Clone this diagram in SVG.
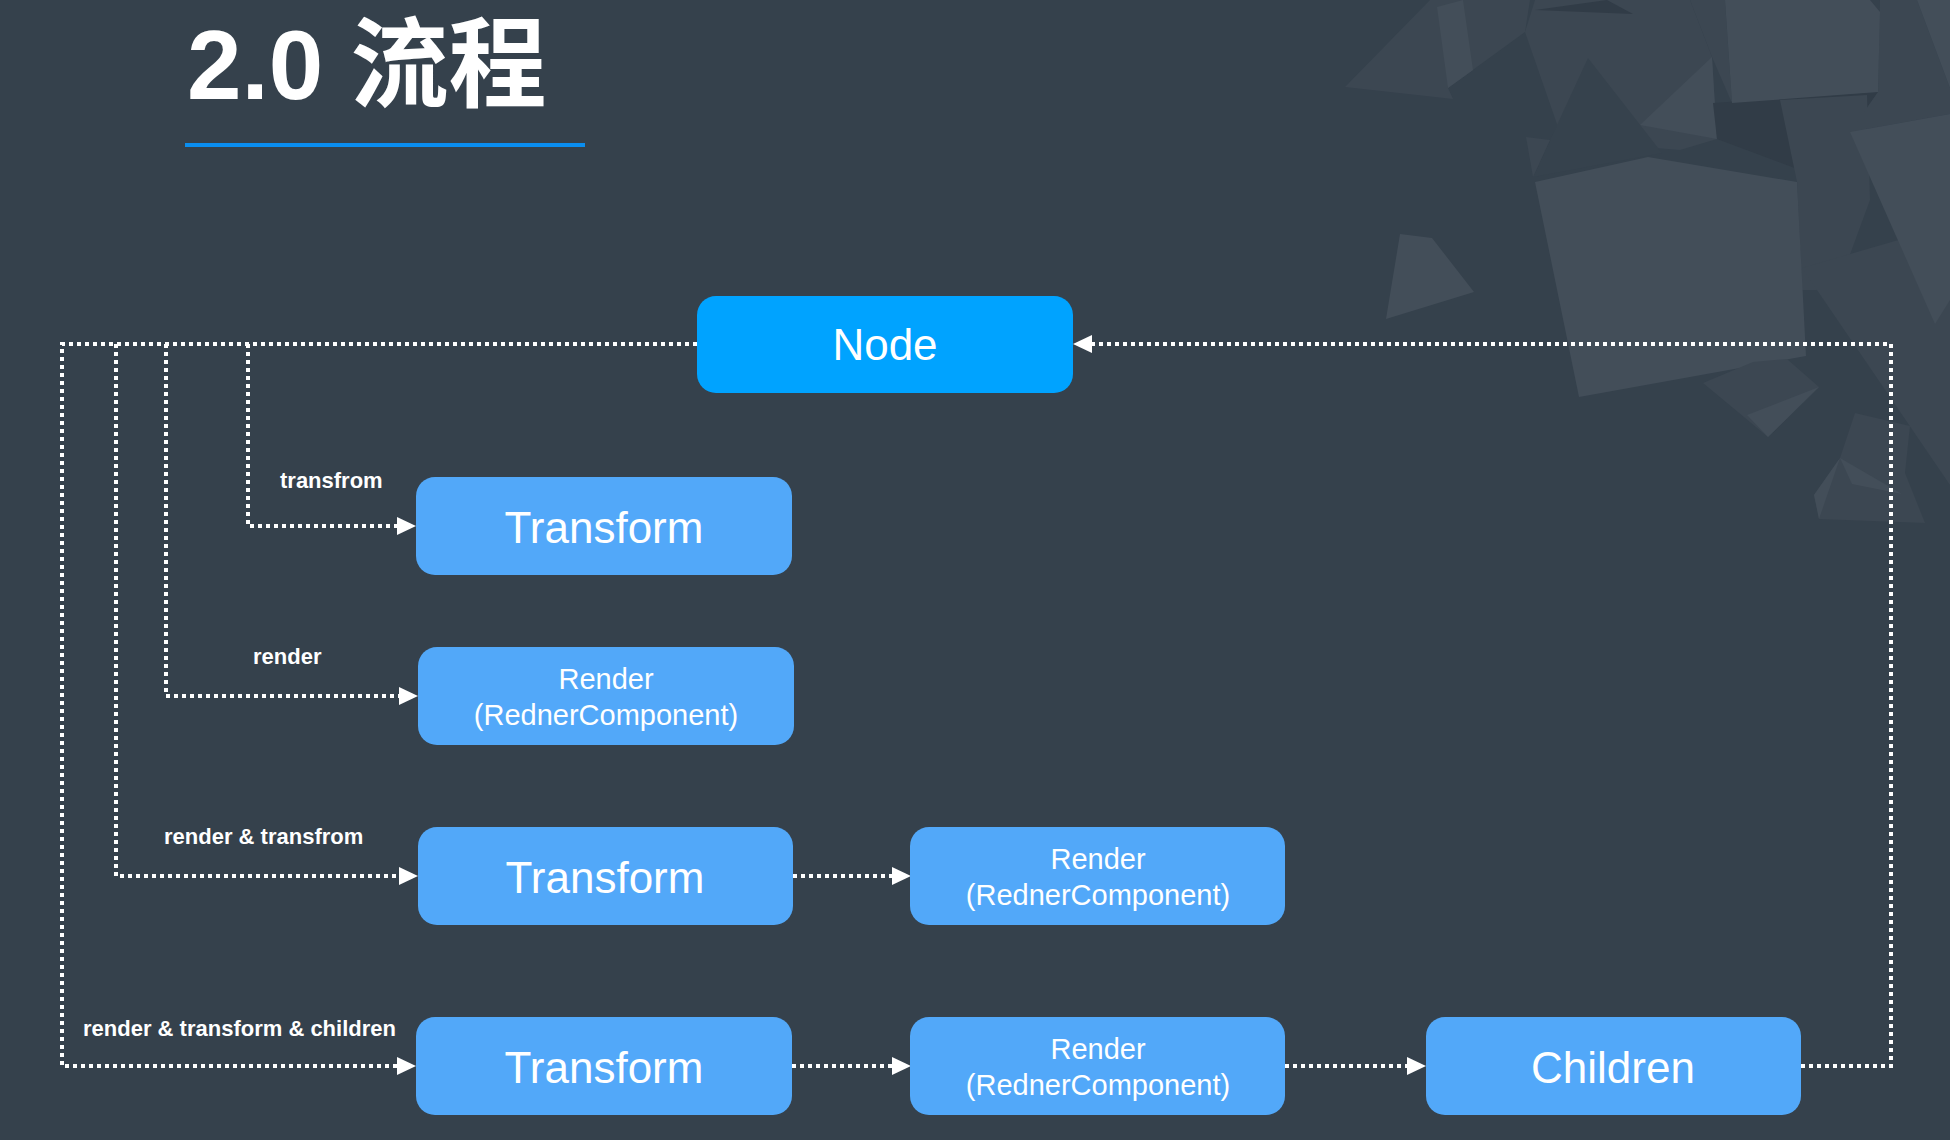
<svg xmlns="http://www.w3.org/2000/svg" width="1950" height="1140" viewBox="0 0 1950 1140">
<style>
.bg{fill:#35414c}
.L{fill:#434e59}
.M{fill:#3c4752}
.D{fill:#313c47}
.title{font-family:"Liberation Sans","Noto Sans CJK SC",sans-serif;font-weight:bold;font-size:98px;fill:#ffffff}
.box{fill:#52a8f9}
.node{fill:#00a3ff}
.t44{font-family:"Liberation Sans",Arial,sans-serif;font-size:44px;fill:#ffffff;text-anchor:middle}
.t29{font-family:"Liberation Sans",Arial,sans-serif;font-size:29px;fill:#ffffff;text-anchor:middle}
.lbl{font-family:"Liberation Sans",Arial,sans-serif;font-weight:bold;font-size:22px;fill:#ffffff}
.con{fill:none;stroke:#ffffff;stroke-width:4;stroke-dasharray:4 4}
</style>
<defs>
<marker id="arr" viewBox="0 0 19 18" refX="9" refY="9" markerWidth="19" markerHeight="18" markerUnits="userSpaceOnUse" orient="auto">
<path d="M0,0 L19,9 L0,18 Z" fill="#ffffff"/>
</marker>
</defs>
<rect class="bg" x="0" y="0" width="1950" height="1140"/>
<g id="decor">
<polygon class="M" points="1345,87 1430,0 1530,0 1525,32 1448,88 1453,99"/>
<polygon class="L" points="1437,7 1463,0 1473,70 1448,88"/>
<polygon class="M" points="1525,32 1535,0 1690,0 1712,57 1717,139 1680,150 1560,140 1558,127"/>
<polygon class="D" points="1535,10 1607,0 1633,14"/>
<polygon class="M" points="1690,0 1725,0 1732,103 1712,57"/>
<polygon fill="#36424d" points="1588,58 1662,153 1533,177"/>
<polygon class="L" points="1640,125 1712,57 1717,139"/>
<polygon class="M" points="1526,137 1550,140 1533,177"/>
<polygon class="D" points="1713,103 1878,92 1850,132 1800,170 1717,139"/>
<polygon class="M" points="1780,100 1867,95 1870,200 1837,290 1802,290 1797,182"/>
<polygon class="M" points="1880,0 1917,0 1950,88 1950,114 1850,132 1878,92"/>
<polygon class="L" points="1917,0 1950,0 1950,88"/>
<polygon class="M" points="1802,268 1950,225 1950,485"/>
<polygon class="L" points="1850,132 1950,114 1950,300 1935,324"/>
<polygon class="L" points="1725,0 1870,0 1880,12 1878,92 1732,103"/>
<polygon class="L" points="1535,182 1648,157 1797,182 1806,356 1579,397"/>
<polygon class="L" points="1400,234 1432,238 1474,292 1386,319"/>
<polygon class="M" points="1703,383 1753,362 1787,359 1819,387 1768,437"/>
<polygon class="L" points="1747,415 1819,387 1768,437"/>
<polygon class="M" points="1855,413 1910,426 1905,473 1925,523 1819,519 1814,495 1840,458"/>
<polygon class="L" points="1840,458 1902,494 1852,484"/>
<polygon class="L" points="1814,495 1840,458 1819,519"/>
</g>
<g id="title">
<text class="title" x="187" y="99">2.0 流程</text>
<rect x="185" y="143" width="400" height="4" fill="#0a8ef0"/>
</g>
<g id="connectors">
<path class="con" d="M697,344 H62 V1066 H406" marker-end="url(#arr)"/>
<path class="con" d="M248,344 V526 H406" marker-end="url(#arr)"/>
<path class="con" d="M166,344 V696 H408" marker-end="url(#arr)"/>
<path class="con" d="M116,344 V876 H408" marker-end="url(#arr)"/>
<path class="con" d="M793,876 H901" marker-end="url(#arr)"/>
<path class="con" d="M792,1066 H901" marker-end="url(#arr)"/>
<path class="con" d="M1285,1066 H1416" marker-end="url(#arr)"/>
<path class="con" d="M1801,1066 H1891 V344 H1083" marker-end="url(#arr)"/>
</g>
<g id="labels">
<text class="lbl" x="280" y="488">transfrom</text>
<text class="lbl" x="253" y="664">render</text>
<text class="lbl" x="164" y="844">render &amp; transfrom</text>
<text class="lbl" x="83" y="1036">render &amp; transform &amp; children</text>
</g>
<g id="node-node">
<rect class="node" x="697" y="296" width="376" height="97" rx="19"/>
<text class="t44" x="885" y="360">Node</text>
</g>
<g id="node-transform1">
<rect class="box" x="416" y="477" width="376" height="98" rx="19"/>
<text class="t44" x="604" y="543">Transform</text>
</g>
<g id="node-render1">
<rect class="box" x="418" y="647" width="376" height="98" rx="19"/>
<text class="t29" x="606" y="689">Render</text>
<text class="t29" x="606" y="725">(RednerComponent)</text>
</g>
<g id="node-transform2">
<rect class="box" x="418" y="827" width="375" height="98" rx="19"/>
<text class="t44" x="605" y="893">Transform</text>
</g>
<g id="node-render2">
<rect class="box" x="910" y="827" width="375" height="98" rx="19"/>
<text class="t29" x="1098" y="869">Render</text>
<text class="t29" x="1098" y="905">(RednerComponent)</text>
</g>
<g id="node-transform3">
<rect class="box" x="416" y="1017" width="376" height="98" rx="19"/>
<text class="t44" x="604" y="1083">Transform</text>
</g>
<g id="node-render3">
<rect class="box" x="910" y="1017" width="375" height="98" rx="19"/>
<text class="t29" x="1098" y="1059">Render</text>
<text class="t29" x="1098" y="1095">(RednerComponent)</text>
</g>
<g id="node-children">
<rect class="box" x="1426" y="1017" width="375" height="98" rx="19"/>
<text class="t44" x="1613" y="1083">Children</text>
</g>
</svg>
